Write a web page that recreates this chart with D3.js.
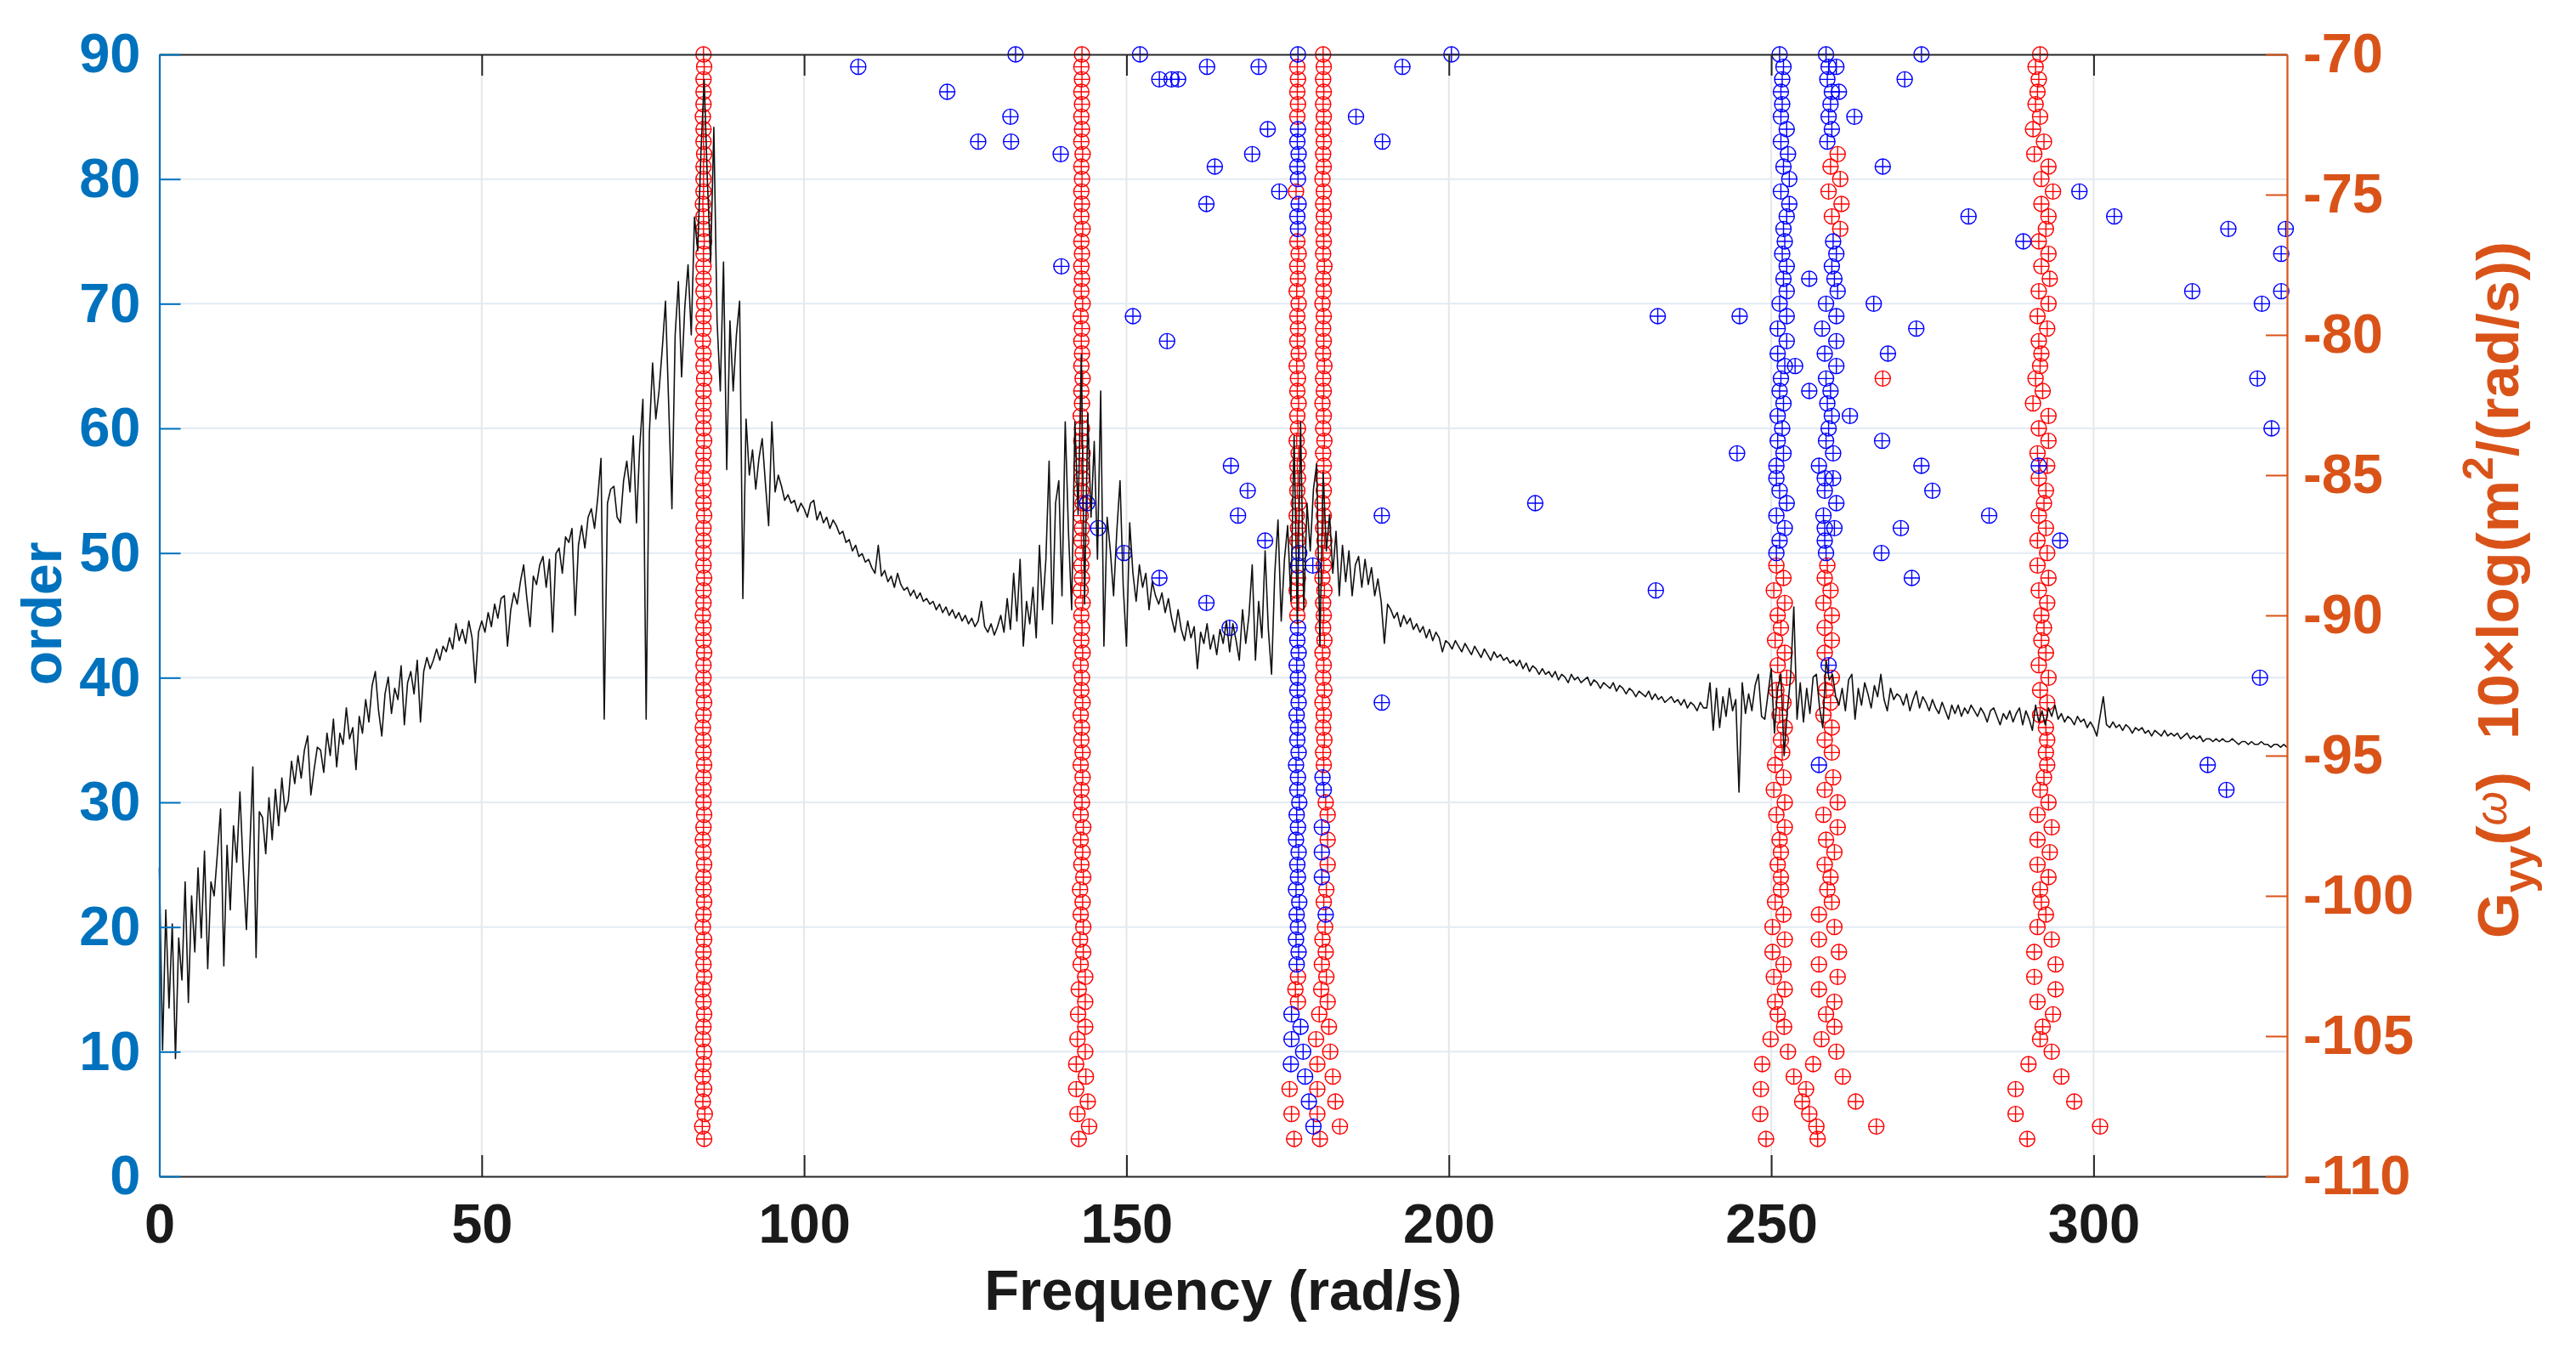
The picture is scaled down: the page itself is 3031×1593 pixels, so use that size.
<!DOCTYPE html>
<html><head><meta charset="utf-8">
<script src="https://cdn.jsdelivr.net/npm/d3@7"></script>
<style>
html,body{margin:0;padding:0;background:#fff;}
svg{display:block;}
text{font-family:"Liberation Sans",Arial,Helvetica,sans-serif;font-weight:bold;}
</style></head><body>
<svg id="chart" width="3031" height="1593"></svg>
<script>
// ---------------- DATA ----------------
const xDomain = [0, 330];
const orderDomain = [0, 90];
const psdDomain = [-110, -70];
const xTicks = [0, 50, 100, 150, 200, 250, 300];
const orderTicks = [0, 10, 20, 30, 40, 50, 60, 70, 80, 90];
const psdTicks = [-110, -105, -100, -95, -90, -85, -80, -75, -70];
const xLabel = "Frequency (rad/s)";
const leftLabel = "order";

// model orders of the stabilization diagram
const orders = d3.range(3, 91);

// PSD Gyy(w) in dB, sampled every 0.5 rad/s from 0 to 330
const psdStep = 0.5;
const psdValues = [
-99.0,-105.5,-100.5,-104.0,-101.0,-105.8,-101.5,-103.0,-99.5,-103.8,-100.0,-102.0,-99.0,-101.5,-98.4,-102.6,-99.5,-100.0,-98.5,-96.9,
-102.5,-98.2,-100.5,-97.5,-98.8,-96.3,-99.0,-101.2,-98.5,-95.4,-102.2,-97.0,-97.2,-98.5,-96.5,-98.0,-96.2,-97.5,-95.8,-97.0,
-96.6,-95.2,-96.0,-95.0,-95.8,-94.8,-94.3,-96.4,-95.5,-94.7,-94.8,-95.6,-94.2,-95.0,-93.7,-95.4,-94.2,-94.6,-93.3,-94.4,
-94.0,-95.5,-93.6,-94.2,-93.0,-93.8,-92.5,-92.0,-93.4,-94.3,-92.8,-92.2,-93.5,-92.6,-93.0,-91.8,-93.9,-92.4,-92.0,-92.8,
-91.6,-93.8,-92.0,-91.5,-91.9,-91.6,-91.2,-91.6,-91.1,-91.3,-90.8,-91.2,-90.3,-90.9,-90.5,-91.0,-90.2,-90.8,-92.4,-90.6,
-90.2,-90.6,-89.9,-90.4,-89.6,-90.1,-89.4,-89.3,-91.1,-89.8,-89.2,-89.6,-88.8,-88.2,-89.4,-90.4,-88.6,-88.9,-88.2,-87.9,
-89.0,-88.0,-90.6,-87.8,-87.6,-88.5,-87.2,-87.4,-86.9,-90.0,-87.5,-86.8,-87.6,-86.5,-86.2,-86.9,-85.8,-84.4,-93.7,-86.0,
-85.5,-85.4,-86.5,-86.7,-85.2,-84.5,-85.6,-83.6,-86.7,-84.0,-82.3,-93.7,-83.5,-81.0,-83.0,-82.0,-80.5,-78.8,-82.5,-86.2,
-80.0,-78.1,-81.5,-79.0,-77.5,-80.0,-75.8,-77.0,-73.5,-70.9,-74.5,-77.4,-72.6,-79.5,-82.0,-77.4,-84.8,-79.5,-82.0,-80.0,
-78.8,-89.4,-83.0,-85.0,-84.1,-85.5,-84.4,-83.7,-85.3,-86.8,-83.1,-85.6,-85.0,-85.4,-85.9,-85.7,-86.0,-85.9,-86.3,-86.0,
-86.2,-86.5,-86.0,-85.9,-86.6,-86.3,-86.7,-86.5,-86.9,-86.6,-86.8,-87.1,-87.0,-87.4,-87.3,-87.7,-87.5,-87.9,-87.8,-88.1,
-88.0,-88.3,-88.5,-87.5,-88.6,-88.4,-88.8,-88.6,-89.0,-88.5,-88.9,-89.1,-89.0,-89.3,-89.1,-89.4,-89.2,-89.5,-89.4,-89.6,
-89.5,-89.8,-89.6,-89.9,-89.7,-90.0,-89.8,-90.1,-89.9,-90.2,-90.0,-90.3,-90.1,-90.4,-90.2,-89.5,-90.4,-90.6,-90.3,-90.7,
-90.4,-90.0,-90.6,-89.4,-90.5,-88.5,-90.2,-88.0,-91.1,-89.5,-90.3,-89.0,-90.8,-87.5,-89.8,-88.0,-84.5,-90.3,-86.0,-85.2,
-89.3,-83.1,-87.0,-89.8,-83.1,-86.4,-80.7,-89.6,-82.8,-86.5,-83.8,-88.0,-82.0,-91.1,-86.5,-87.7,-89.3,-87.0,-85.2,-89.0,
-91.1,-86.7,-88.5,-89.5,-88.2,-89.0,-88.5,-89.8,-88.8,-89.3,-89.6,-89.2,-89.9,-89.4,-90.1,-90.6,-89.8,-90.5,-90.9,-90.2,
-90.8,-90.4,-91.9,-90.6,-91.0,-90.3,-91.2,-90.7,-91.4,-90.5,-91.0,-90.2,-91.3,-90.3,-90.9,-91.6,-89.8,-91.0,-90.0,-88.2,
-91.6,-89.5,-90.8,-87.7,-90.5,-92.1,-88.5,-86.6,-90.2,-88.0,-86.8,-89.5,-83.6,-90.3,-83.1,-89.8,-86.0,-87.7,-85.5,-84.6,
-91.1,-84.9,-87.7,-86.4,-88.5,-87.0,-89.3,-87.5,-88.8,-87.7,-89.3,-88.2,-87.9,-89.0,-88.0,-88.9,-88.3,-89.3,-88.7,-89.5,
-91.0,-89.6,-89.8,-90.1,-89.9,-90.4,-90.0,-90.3,-90.1,-90.5,-90.3,-90.6,-90.4,-90.8,-90.5,-90.9,-90.6,-90.8,-91.3,-90.9,
-91.0,-91.2,-90.9,-91.1,-91.3,-91.0,-91.2,-91.4,-91.1,-91.3,-91.5,-91.2,-91.4,-91.6,-91.3,-91.5,-91.4,-91.6,-91.5,-91.7,
-91.6,-91.8,-91.6,-91.9,-91.7,-92.0,-91.8,-91.9,-92.1,-91.9,-92.1,-92.0,-92.2,-92.0,-92.3,-92.1,-92.2,-92.4,-92.1,-92.3,
-92.2,-92.4,-92.3,-92.2,-92.5,-92.3,-92.4,-92.6,-92.4,-92.5,-92.6,-92.4,-92.7,-92.5,-92.6,-92.8,-92.6,-92.7,-92.9,-92.7,
-92.8,-92.9,-92.7,-93.0,-92.8,-93.0,-92.9,-93.1,-93.0,-92.9,-93.1,-93.0,-93.2,-93.0,-93.3,-93.1,-93.2,-93.4,-93.1,-93.3,
-93.3,-92.4,-94.1,-92.6,-94.0,-92.9,-93.6,-92.6,-93.4,-93.0,-96.3,-92.4,-93.5,-92.8,-93.4,-92.5,-92.1,-93.6,-93.7,-92.8,
-91.9,-94.2,-92.6,-92.1,-95.0,-93.4,-92.2,-89.7,-93.7,-92.4,-93.8,-92.6,-93.5,-92.2,-92.1,-93.3,-94.0,-91.6,-92.3,-92.1,
-92.9,-93.2,-92.6,-93.4,-92.3,-92.1,-93.7,-92.6,-93.2,-92.4,-92.8,-93.3,-92.5,-92.9,-92.1,-93.0,-93.4,-92.6,-93.0,-92.8,
-92.9,-93.2,-92.8,-93.4,-93.0,-92.7,-93.3,-92.9,-93.1,-93.4,-93.0,-93.3,-93.5,-93.1,-93.4,-93.7,-93.2,-93.5,-93.2,-93.6,
-93.3,-93.5,-93.2,-93.4,-93.6,-93.3,-93.5,-93.8,-93.4,-93.3,-93.6,-93.9,-93.5,-93.7,-93.4,-93.8,-93.5,-93.3,-93.9,-93.4,
-93.7,-94.1,-93.2,-93.8,-93.4,-93.9,-93.3,-93.6,-93.2,-93.7,-93.5,-93.8,-93.6,-93.7,-93.9,-93.6,-93.8,-93.7,-94.0,-93.8,
-94.0,-94.3,-93.6,-92.9,-93.9,-94.0,-93.8,-94.0,-93.9,-94.1,-93.9,-94.0,-94.2,-94.0,-94.1,-94.0,-94.2,-94.1,-94.3,-94.1,
-94.2,-94.3,-94.1,-94.3,-94.2,-94.3,-94.2,-94.4,-94.3,-94.2,-94.4,-94.3,-94.4,-94.3,-94.5,-94.4,-94.4,-94.5,-94.4,-94.5,
-94.4,-94.5,-94.5,-94.4,-94.5,-94.6,-94.5,-94.5,-94.6,-94.5,-94.6,-94.6,-94.5,-94.6,-94.6,-94.7,-94.6,-94.6,-94.7,-94.6,-94.7
];

// Pole frequencies (rad/s) per model order 3..90, one array per alignment
const colAFreq = [
84.5,84.2,84.6,84.3,84.5,84.3,84.4,84.5,84.3,84.4,84.5,84.4,84.3,84.5,84.4,84.4,84.5,84.3,84.4,84.5,
84.4,84.4,84.5,84.4,84.3,84.4,84.5,84.4,84.4,84.4,84.5,84.4,84.4,84.3,84.4,84.5,84.4,84.4,84.4,84.5,
84.4,84.4,84.3,84.4,84.4,84.5,84.4,84.4,84.4,84.4,84.5,84.4,84.4,84.3,84.4,84.4,84.5,84.4,84.4,84.4,
84.4,84.5,84.4,84.4,84.3,84.4,84.4,84.5,84.4,84.4,84.4,84.4,84.5,84.4,84.4,84.3,84.4,84.4,84.4,84.5,
84.4,84.4,84.3,84.4,84.4,84.4,84.5,84.4];
const colBFreq = [
142.6,144.2,142.4,144.0,142.2,143.7,142.2,143.6,142.4,143.6,142.5,143.6,142.6,143.6,
142.9,143.3,142.8,143.3,142.9,143.2,142.8,143.3,143.0,143.2,142.9,143.3,142.9,143.1,143.0,143.2,142.9,143.2,143.0,143.1,
142.9,143.2,143.0,143.1,142.9,143.2,143.0,143.1,143.0,143.2,142.9,143.1,143.0,143.2,143.0,143.1,142.9,143.2,143.0,143.1,
143.0,143.2,143.0,143.1,142.9,143.1,143.0,143.2,143.0,143.1,143.0,143.1,142.9,143.2,143.0,143.1,143.0,143.1,143.0,143.2,
143.0,143.1,143.0,143.1,143.0,143.2,143.0,143.1,143.0,143.1,143.0,143.1,143.0,143.1];
const colCFreq = [
176.0,179.0,175.6,178.3,175.3,177.7,175.5,177.4,175.6,177.0,175.6,176.6,176.2,176.6,
176.4,176.7,176.3,176.6,176.4,176.8,176.3,176.6,176.5,176.7,176.3,176.6,176.4,176.8,176.5,176.6,176.3,176.7,176.5,176.6,
176.4,176.7,176.5,176.6,176.4,176.7,176.5,176.6,176.5,176.7,176.4,176.6,176.6,176.8,176.5,176.6,176.4,176.7,176.5,176.6,
176.5,176.7,176.4,176.6,176.5,176.7,176.5,176.6,176.4,176.7,176.5,176.6,176.5,176.7,176.4,176.6,176.5,176.7,176.5,176.6,
176.5,176.7,176.3,176.6,176.5,176.7,176.5,176.6,176.5,176.6,176.5,176.6,176.5,176.6];
const colDFreq = [
180.0,183.1,179.6,182.4,179.6,182.0,179.6,181.6,179.4,181.4,179.9,181.2,180.2,181.0,
180.3,180.9,180.4,180.8,180.9,180.6,181.0,180.3,181.2,180.3,181.2,180.3,181.2,180.9,180.6,180.4,180.6,180.5,180.7,180.5,
180.6,180.4,180.7,180.5,180.6,180.4,180.7,180.5,180.6,180.5,180.7,180.4,180.6,180.5,180.7,180.5,180.6,180.4,180.6,180.5,
180.6,180.5,180.7,180.5,180.6,180.4,180.6,180.5,180.7,180.5,180.6,180.5,180.6,180.4,180.6,180.5,180.7,180.5,180.6,180.5,
180.6,180.5,180.6,180.4,180.6,180.5,180.6,180.5,180.6,180.5,180.6,180.5,180.6,180.5];
const colEFreq = [
249.2,257.0,248.3,254.8,248.4,253.5,248.6,252.6,249.9,252.0,251.0,250.6,252.1,250.4,
251.9,250.2,252.1,250.2,251.9,250.6,251.5,251.5,251.0,251.5,251.3,252.1,250.8,252.1,250.4,251.9,250.6,251.7,251.5,252.1,
251.3,251.9,250.8,252.4,251.0,252.1,250.6,251.5,251.0,252.1,250.4,251.9,250.8,250.8,251.3,252.1,250.8,252.4,251.3,250.8,
250.8,251.9,251.0,251.7,251.0,251.9,251.3,251.5,252.1,251.0,252.4,251.0,252.4,251.3,252.4,251.9,252.4,251.7,252.1,251.9,
252.4,252.8,251.5,252.8,251.9,252.6,251.5,252.4,251.5,251.7,251.5,251.7,251.9,251.3];
const colFFreq = [
257.2,266.3,255.9,263.1,255.4,261.1,256.5,260.1,257.8,259.8,258.5,259.8,257.4,260.3,
257.4,260.5,257.4,259.8,257.4,259.4,258.7,259.2,258.3,259.8,258.5,260.3,258.1,260.3,258.3,259.6,257.4,259.4,258.3,259.4,
258.1,259.2,258.5,259.4,258.9,258.3,259.4,258.3,259.4,258.1,259.2,258.3,258.7,258.5,258.3,258.3,258.1,260.1,258.3,258.3,
257.4,259.6,258.5,258.9,259.4,258.7,259.2,258.5,260.1,258.3,260.1,257.9,260.1,258.5,260.3,259.8,259.4,260.1,259.6,260.7,
259.4,260.9,258.9,260.7,259.2,260.3,258.7,259.4,258.9,259.2,259.4,258.7,258.9,258.5];
const colGFreq = [
289.7,301.0,287.9,297.0,287.9,295.0,289.9,293.5,291.7,292.1,293.7,291.3,294.1,290.8,
294.1,290.8,293.5,291.3,292.6,291.9,291.7,293.0,291.3,293.2,291.3,293.5,291.3,293.0,291.7,292.3,292.8,292.6,292.8,292.6,
291.7,292.8,291.7,293.0,291.5,292.6,291.9,292.3,291.9,292.8,291.5,293.0,291.3,292.8,291.3,292.6,291.5,292.3,292.6,291.5,
292.8,291.3,293.0,291.5,293.0,290.6,292.1,291.0,291.7,291.9,291.5,292.8,291.3,293.0,291.5,293.2,291.9,293.0,291.5,292.6,
293.0,291.9,293.7,291.9,293.0,290.8,292.3,290.6,291.7,291.0,291.3,291.5,291.0,291.7];

// order ranges (inclusive) in which a column's pole is NOT stable (blue)
const colAUnstable = [];
const colBUnstable = [];
const colCUnstable = [[4,4],[6,6],[8,13],[17,44],[49,50],[76,78],[80,84],[90,90]];
const colDUnstable = [[21,21],[24,24],[26,26],[28,28],[31,32]];
const colEUnstable = [[50,90]];
const colFUnstable = [[33,33],[41,41],[50,75],[83,90]];
const colGUnstable = [];

// isolated poles [frequency, order]
const extraStable = [[267.3,64]];
const extraUnstable = [
[108.4,89],[132.8,90],[122.2,87],[132.0,85],[127.0,83],[132.1,83],[139.8,82],[139.9,73],[152.1,90],[155.1,88],
[157.0,88],[158.0,88],[162.5,89],[170.5,89],[171.9,84],[163.7,81],[169.5,82],[162.4,78],[173.7,79],[151.0,69],
[156.3,67],[185.6,85],[189.7,83],[192.8,89],[200.4,90],[166.2,57],[168.8,55],[167.3,53],[171.5,51],[143.9,54],
[145.6,52],[149.6,50],[155.1,48],[162.4,46],[166.0,44],[189.6,53],[189.6,38],[178.9,49],
[213.4,54],[232.4,69],[245.1,69],[244.7,58],[232.1,47],[273.3,90],[270.7,88],[262.9,85],[267.3,81],[255.9,72],
[255.9,63],[253.7,65],[265.9,70],[272.5,68],[268.1,66],[262.2,61],[267.2,59],[273.3,57],[275.0,55],[283.8,53],
[270.1,52],[294.8,51],[267.1,50],[271.8,48],[297.8,79],[280.6,77],[303.2,77],[289.1,75],[320.9,76],[329.8,76],
[329.1,74],[315.3,71],[326.1,70],[329.1,71],[325.4,64],[327.6,60],[325.8,40],[317.7,33],[320.6,31],[291.5,57],
[260.1,89],[260.5,87],[259.6,56],[259.8,52]
];

// ---------------- CHART ----------------
const BLUE_AX = "#0072BD", ORANGE_AX = "#D95319", DARK = "#262626";
const RED = "#ff0000", BLUEM = "#0000ff";
const M = {left:187.5, right:2691, top:64, bottom:1384};
const svg = d3.select("#chart");

const x = d3.scaleLinear().domain(xDomain).range([M.left, M.right]);
const yL = d3.scaleLinear().domain(orderDomain).range([M.bottom, M.top]);
const yR = d3.scaleLinear().domain(psdDomain).range([M.bottom, M.top]);

svg.append("rect").attr("width",3031).attr("height",1593).attr("fill","#fff");

// grid
const grid = svg.append("g");
grid.selectAll("line.vg").data(xTicks.filter(d=>d>xDomain[0])).join("line")
  .attr("x1",d=>x(d)).attr("x2",d=>x(d)).attr("y1",M.top).attr("y2",M.bottom)
  .attr("stroke","#e4e6e8").attr("stroke-width",2);
grid.selectAll("line.hg").data(orderTicks.filter(d=>d>orderDomain[0] && d<orderDomain[1])).join("line")
  .attr("x1",M.left).attr("x2",M.right).attr("y1",d=>yL(d)).attr("y2",d=>yL(d))
  .attr("stroke","#e2ebf4").attr("stroke-width",2);

// build poles
const columns = [
  [colAFreq,colAUnstable],[colBFreq,colBUnstable],[colCFreq,colCUnstable],[colDFreq,colDUnstable],
  [colEFreq,colEUnstable],[colFFreq,colFUnstable],[colGFreq,colGUnstable]
];
const stable = [], unstable = [];
columns.forEach(([fr,uns]) => {
  orders.forEach((o,i) => {
    if (fr[i] === undefined) return;
    const isU = uns.some(([a,b]) => o>=a && o<=b);
    (isU ? unstable : stable).push([fr[i], o]);
  });
});
extraStable.forEach(p => stable.push(p));
extraUnstable.forEach(p => unstable.push(p));

const R = 9;
function drawMarkers(data, color){
  const g = svg.append("g").attr("fill","none").attr("stroke",color).attr("stroke-width",1.4);
  const m = g.selectAll("g").data(data).join("g")
    .attr("transform", d => `translate(${x(d[0])},${yL(d[1])})`);
  m.append("circle").attr("r",R);
  m.append("path").attr("d",`M${-R},0H${R}M0,${-R}V${R}`);
}
drawMarkers(stable, RED);
drawMarkers(unstable, BLUEM);

// PSD line
const psd = psdValues.map((v,i) => [i*psdStep, v]);
svg.append("path").datum(psd)
  .attr("fill","none").attr("stroke","#111").attr("stroke-width",1.6).attr("stroke-linejoin","round")
  .attr("d", d3.line().x(d=>x(d[0])).y(d=>yR(d[1])));

// axes
const FS = 65;
function styleAxis(g, color, textColor){
  g.attr("font-size",FS).attr("font-family",null);
  g.select(".domain").attr("stroke",color).attr("stroke-width",2.2);
  g.selectAll(".tick line").attr("stroke",color).attr("stroke-width",2);
  g.selectAll(".tick text").attr("fill",textColor).attr("font-weight","bold");
}
const axB = svg.append("g").attr("transform",`translate(0,${M.bottom})`)
  .call(d3.axisBottom(x).tickValues(xTicks).tickSizeInner(-25).tickSizeOuter(0).tickPadding(32).tickFormat(d=>String(d)));
styleAxis(axB, DARK, "#000");
axB.selectAll(".tick text").attr("fill","#1a1a1a");
const axT = svg.append("g").attr("transform",`translate(0,${M.top})`)
  .call(d3.axisTop(x).tickValues(xTicks).tickSizeInner(-25).tickSizeOuter(0).tickFormat(""));
styleAxis(axT, DARK, "#000");
const axL = svg.append("g").attr("transform",`translate(${M.left},0)`)
  .call(d3.axisLeft(yL).tickValues(orderTicks).tickSizeInner(-25).tickSizeOuter(0).tickPadding(22).tickFormat(d=>String(d)));
styleAxis(axL, BLUE_AX, BLUE_AX);
const axR = svg.append("g").attr("transform",`translate(${M.right},0)`)
  .call(d3.axisRight(yR).tickValues(psdTicks).tickSizeInner(-25).tickSizeOuter(0).tickPadding(19).tickFormat(d=>String(d)));
styleAxis(axR, ORANGE_AX, ORANGE_AX);

// labels
svg.append("text").attr("x",(M.left+M.right)/2).attr("y",1541).attr("text-anchor","middle")
  .attr("font-size",67).attr("fill","#1a1a1a").text(xLabel);
svg.append("text").attr("transform",`translate(72,722) rotate(-90)`).attr("text-anchor","middle")
  .attr("font-size",66).attr("fill",BLUE_AX).text(leftLabel);

const rl = svg.append("text").attr("transform",`translate(2963,694) rotate(-90)`)
  .attr("text-anchor","middle").attr("font-size",69).attr("fill",ORANGE_AX);
rl.append("tspan").text("G");
rl.append("tspan").attr("font-size",50).attr("dy",18).text("yy");
rl.append("tspan").attr("dy",-18).text("(");
rl.append("tspan").attr("font-size",52).attr("font-weight","normal").attr("font-style","italic").attr("dy",-14).text("ω");
rl.append("tspan").attr("dy",14).text(")\u00A0\u00A010×log(m");
rl.append("tspan").attr("font-size",50).attr("dy",-30).text("2");
rl.append("tspan").attr("dy",30).text("/(rad/s))");
</script>
</body></html>
